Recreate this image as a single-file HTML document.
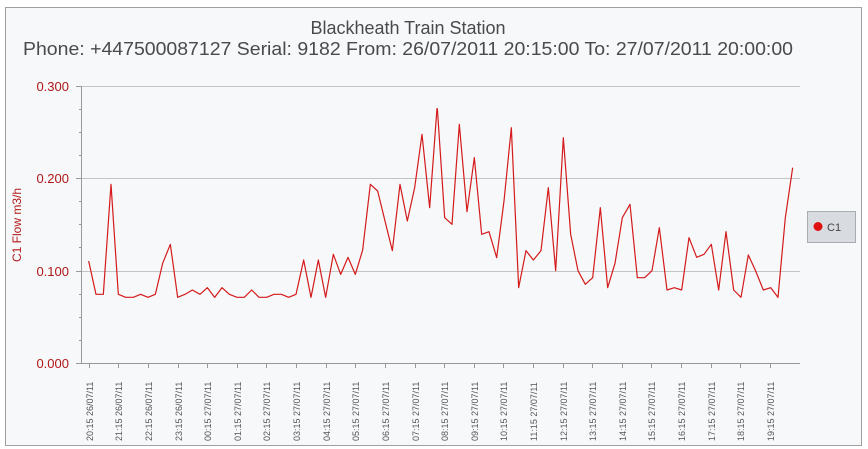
<!DOCTYPE html>
<html><head><meta charset="utf-8"><style>
html,body{margin:0;padding:0;background:#fff;width:868px;height:449px;overflow:hidden}
svg{display:block;font-family:"Liberation Sans",sans-serif}
</style></head><body>
<svg width="868" height="449" viewBox="0 0 868 449" xmlns="http://www.w3.org/2000/svg">
<rect x="5.5" y="7.5" width="856" height="438" fill="#f7f8fa" stroke="#a0a0a0"/>
<text x="408" y="34" text-anchor="middle" font-size="18" fill="#4a4a4a">Blackheath Train Station</text>
<text x="408" y="55" text-anchor="middle" font-size="18" fill="#4a4a4a" textLength="770" lengthAdjust="spacingAndGlyphs">Phone: +447500087127 Serial: 9182 From: 26/07/2011 20:15:00 To: 27/07/2011 20:00:00</text>
<g stroke="#c4c4c4" stroke-width="1">
<line x1="82" y1="86.5" x2="800" y2="86.5"/>
<line x1="82" y1="178.5" x2="800" y2="178.5"/>
<line x1="82" y1="271.5" x2="800" y2="271.5"/>
</g>
<g stroke="#999" stroke-width="1">
<line x1="81.5" y1="86" x2="81.5" y2="363"/>
<line x1="81" y1="363.5" x2="800" y2="363.5"/>
<line x1="76" y1="86.5" x2="82" y2="86.5"/><line x1="76" y1="178.5" x2="82" y2="178.5"/><line x1="76" y1="271.5" x2="82" y2="271.5"/><line x1="76" y1="363.5" x2="82" y2="363.5"/>
<line x1="79" y1="109.5" x2="82" y2="109.5"/><line x1="79" y1="132.5" x2="82" y2="132.5"/><line x1="79" y1="155.5" x2="82" y2="155.5"/>
<line x1="79" y1="201.5" x2="82" y2="201.5"/><line x1="79" y1="224.5" x2="82" y2="224.5"/><line x1="79" y1="247.5" x2="82" y2="247.5"/>
<line x1="79" y1="294.5" x2="82" y2="294.5"/><line x1="79" y1="317.5" x2="82" y2="317.5"/><line x1="79" y1="340.5" x2="82" y2="340.5"/>
</g>
<g font-size="13" fill="#b01818" text-anchor="end">
<text x="69" y="91">0.300</text><text x="69" y="183">0.200</text><text x="69" y="276">0.100</text><text x="69" y="368">0.000</text>
</g>
<text transform="translate(21,225) rotate(-90)" text-anchor="middle" font-size="12" fill="#b01818">C1 Flow m3/h</text>
<g stroke="#999">
<line x1="89.5" x2="89.5" y1="363" y2="368"/><line x1="118.5" x2="118.5" y1="363" y2="368"/><line x1="148.5" x2="148.5" y1="363" y2="368"/><line x1="178.5" x2="178.5" y1="363" y2="368"/><line x1="207.5" x2="207.5" y1="363" y2="368"/><line x1="237.5" x2="237.5" y1="363" y2="368"/><line x1="266.5" x2="266.5" y1="363" y2="368"/><line x1="296.5" x2="296.5" y1="363" y2="368"/><line x1="326.5" x2="326.5" y1="363" y2="368"/><line x1="355.5" x2="355.5" y1="363" y2="368"/><line x1="385.5" x2="385.5" y1="363" y2="368"/><line x1="415.5" x2="415.5" y1="363" y2="368"/><line x1="444.5" x2="444.5" y1="363" y2="368"/><line x1="474.5" x2="474.5" y1="363" y2="368"/><line x1="503.5" x2="503.5" y1="363" y2="368"/><line x1="533.5" x2="533.5" y1="363" y2="368"/><line x1="563.5" x2="563.5" y1="363" y2="368"/><line x1="592.5" x2="592.5" y1="363" y2="368"/><line x1="622.5" x2="622.5" y1="363" y2="368"/><line x1="651.5" x2="651.5" y1="363" y2="368"/><line x1="681.5" x2="681.5" y1="363" y2="368"/><line x1="711.5" x2="711.5" y1="363" y2="368"/><line x1="740.5" x2="740.5" y1="363" y2="368"/><line x1="770.5" x2="770.5" y1="363" y2="368"/>
</g>
<g font-size="9" fill="#555">
<text transform="translate(93,441) rotate(-90)">20:15 26/07/11</text>
<text transform="translate(122,441) rotate(-90)">21:15 26/07/11</text>
<text transform="translate(152,441) rotate(-90)">22:15 26/07/11</text>
<text transform="translate(182,441) rotate(-90)">23:15 26/07/11</text>
<text transform="translate(211,441) rotate(-90)">00:15 27/07/11</text>
<text transform="translate(241,441) rotate(-90)">01:15 27/07/11</text>
<text transform="translate(270,441) rotate(-90)">02:15 27/07/11</text>
<text transform="translate(300,441) rotate(-90)">03:15 27/07/11</text>
<text transform="translate(330,441) rotate(-90)">04:15 27/07/11</text>
<text transform="translate(359,441) rotate(-90)">05:15 27/07/11</text>
<text transform="translate(389,441) rotate(-90)">06:15 27/07/11</text>
<text transform="translate(419,441) rotate(-90)">07:15 27/07/11</text>
<text transform="translate(448,441) rotate(-90)">08:15 27/07/11</text>
<text transform="translate(478,441) rotate(-90)">09:15 27/07/11</text>
<text transform="translate(507,441) rotate(-90)">10:15 27/07/11</text>
<text transform="translate(537,441) rotate(-90)">11:15 27/07/11</text>
<text transform="translate(567,441) rotate(-90)">12:15 27/07/11</text>
<text transform="translate(596,441) rotate(-90)">13:15 27/07/11</text>
<text transform="translate(626,441) rotate(-90)">14:15 27/07/11</text>
<text transform="translate(655,441) rotate(-90)">15:15 27/07/11</text>
<text transform="translate(685,441) rotate(-90)">16:15 27/07/11</text>
<text transform="translate(715,441) rotate(-90)">17:15 27/07/11</text>
<text transform="translate(744,441) rotate(-90)">18:15 27/07/11</text>
<text transform="translate(774,441) rotate(-90)">19:15 27/07/11</text>
</g>
<g fill="none" stroke="#d41a1a" stroke-linejoin="round">
<polyline transform="translate(0,60) scale(0.33333)" stroke-width="3.6" points="266,603 288,703 310,703 333,373 355,703 377,712 400,712 422,703 444,712 466,703 488,610 511,553 533,712 555,703 577,690 600,703 622,683 644,712 666,683 688,703 711,712 733,712 755,690 777,712 800,712 822,703 844,703 866,712 888,703 911,600 933,712 955,600 977,712 1000,583 1022,643 1044,592 1066,643 1088,570 1111,373 1133,393 1155,483 1177,572 1200,373 1222,483 1244,383 1266,223 1289,443 1311,145"/>
<polyline transform="translate(430,60) scale(0.33333)" stroke-width="3.6" points="22,145 44,473 66,493 88,193 111,455 133,293 155,523 177,515 200,593 222,423 244,203 266,683 288,572 310,600 333,572 355,383 377,632 400,233 422,523 444,632 466,673 488,653 511,443 533,683 555,610 577,473 600,433 622,653 644,653 666,632 688,503 711,690 733,683 755,690 777,533 800,592 822,583 844,553 866,690 888,515 911,690 933,712 955,585 977,633 1000,690 1022,683 1044,712 1066,473 1088,323"/>
</g>
<rect x="807.5" y="211.5" width="48" height="31" fill="#d8dbe0" stroke="#a8acb2"/>
<circle cx="818" cy="226.5" r="4.5" fill="#e01010"/>
<text x="827" y="231" font-size="11" fill="#444">C1</text>
</svg>
</body></html>
